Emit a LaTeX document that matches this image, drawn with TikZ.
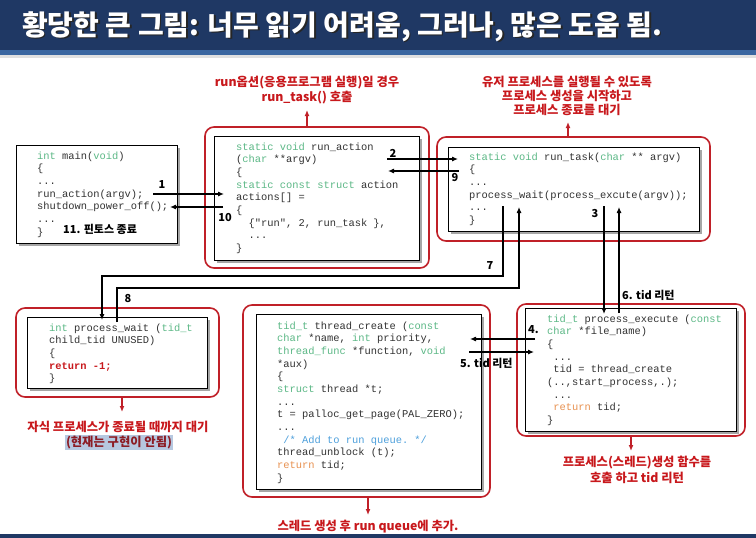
\documentclass[tikz,border=0pt]{standalone}
\usepackage{fontspec}
\setmonofont{Liberation Mono}
\newfontfamily\kr{Noto Sans CJK KR}
\usetikzlibrary{arrows.meta}
\definecolor{navy}{RGB}{31,56,100}
\definecolor{navylt}{RGB}{58,102,160}
\definecolor{redc}{RGB}{192,32,40}
\definecolor{redt}{RGB}{200,24,28}
\definecolor{kw}{RGB}{92,184,134}
\definecolor{cm}{RGB}{78,160,220}
\definecolor{rt}{RGB}{232,145,80}
\definecolor{codec}{RGB}{50,50,50}
\definecolor{hl}{RGB}{182,200,224}
\definecolor{maroonc}{RGB}{140,28,36}
\tikzset{
  redbox/.style={draw=redc, line width=1.6pt, rounded corners=9pt},
  codebox/.style={draw=black, line width=0.9pt, fill=white},
  shadowbox/.style={fill=black!35},
  code/.style={anchor=north west, align=left, inner sep=0pt, font=\ttfamily\fontsize{10.4}{12.65}\selectfont, text=codec},
  conn/.style={draw=black, line width=1.1pt, -{Latex[length=6pt,width=5pt]}},
  redarr/.style={draw=redc, line width=1.3pt, -{Latex[length=6pt,width=5pt]}},
  lbl/.style={font=\kr\bfseries\fontsize{12.3}{15}\selectfont, text=redt, inner sep=0pt, anchor=base},
  num/.style={font=\kr\bfseries\fontsize{11}{12}\selectfont, inner sep=0pt, text=black, anchor=base},
  ttl/.style={font=\kr\bfseries\fontsize{28}{32}\selectfont, inner sep=0pt, anchor=base west},
}
\newcommand\kwc[1]{\textcolor{kw}{#1}}
\newcommand\strutA{\rule{0pt}{9pt}}
\newcommand\cbox[4]{\fill[shadowbox] (#1+2.5,#2+2.5) rectangle (#3+2.5,#4+2.5); \draw[codebox] (#1,#2) rectangle (#3,#4);}
\begin{document}
\begin{tikzpicture}[x=1pt,y=-1pt]
\useasboundingbox (0,0) rectangle (756,538);
\fill[white] (0,0) rectangle (756,538);
% title bar
\fill[navy] (0,0) rectangle (756,50);
\fill[navylt] (0,50) rectangle (756,55);
\fill[black!12] (0,55) rectangle (756,58);
\node[ttl, text=black!85] (titsh) at (23.5,36.5) {황당한 큰 그림: 너무 읽기 어려움, 그러나, 많은 도움 됨.};
\node[ttl, text=white] (tit) at (22,35) {황당한 큰 그림: 너무 읽기 어려움, 그러나, 많은 도움 됨.};
% bottom line
\fill[navy] (0,534) rectangle (756,538);

% red outlines
\draw[redbox] (205,127) rectangle (429,268);
\draw[redbox] (437,137) rectangle (710,241);
\draw[redbox] (16,308) rectangle (219,397);
\draw[redbox] (243,305) rectangle (490,497);
\draw[redbox] (517,304) rectangle (745,436);

% code boxes
\cbox{16}{145}{177}{243}
\cbox{214}{136}{419}{260}
\cbox{448}{147}{699}{231}
\cbox{27}{317}{207}{388}
\cbox{256}{314}{481}{489}
\cbox{525}{308}{736}{431}

% code texts
\node[code] (mainc) at (37,150) {\strutA\kwc{int} main(\kwc{void})\\
\{\\
...\\
run\_action(argv);\\
shutdown\_power\_off();\\
...\\
\}};

\node[code] (actc) at (236,141) {\strutA\kwc{static void} run\_action\\
(\kwc{char} **argv)\\
\{\\
\kwc{static const struct} action\\
actions[] =\\
\{\\
\phantom{xx}\{"run", 2, run\_task \},\\
\phantom{xx}...\\
\}};

\node[code] (taskc) at (469,151) {\strutA\kwc{static void} run\_task(\kwc{char} ** argv)\\
\{\\
...\\
process\_wait(process\_excute(argv));\\
...\\
\}};

\node[code] (waitc) at (49,322) {\strutA\kwc{int} process\_wait (\kwc{tid\_t}\\
child\_tid UNUSED)\\
\{\\
\textcolor{redt}{\bfseries return -1;}\\
\}};

\node[code] (threadc) at (277,320) {\strutA\kwc{tid\_t} thread\_create (\kwc{const}\\
\kwc{char} *name, \kwc{int} priority,\\
\kwc{thread\_func} *function, \kwc{void}\\
*aux)\\
\{\\
\kwc{struct} thread *t;\\
...\\
t = palloc\_get\_page(PAL\_ZERO);\\
...\\
\phantom{x}\textcolor{cm}{/* Add to run queue. */}\\
thread\_unblock (t);\\
\textcolor{rt}{return} tid;\\
\}};

\node[code] (execc) at (547,313) {\strutA\kwc{tid\_t} process\_execute (\kwc{const}\\
\kwc{char} *file\_name)\\
\{\\
\phantom{x}...\\
\phantom{x}tid = thread\_create\\
(..,start\_process,.);\\
\phantom{x}...\\
\phantom{x}\textcolor{rt}{return} tid;\\
\}};

% red labels
\node[lbl] (la1) at (307,86.5) {run옵션(응용프로그램 실행)일 경우};
\node[lbl] (la2) at (307,101.5) {run\_task() 호출};
\node[lbl] (lb1) at (567,86) {유저 프로세스를 실행될 수 있도록};
\node[lbl] (lb2) at (567,100) {프로세스 생성을 시작하고};
\node[lbl] (lb3) at (567,114) {프로세스 종료를 대기};
\node[lbl] (lc1) at (118,431.5) {자식 프로세스가 종료될 때까지 대기};
\node[lbl, text=maroonc, fill=hl, inner sep=1pt] (lc2) at (119,446.5) {(현재는 구현이 안됨)};
\node[lbl] (ld1) at (368,530) {스레드 생성 후 run queue에 추가.};
\node[lbl] (le1) at (637,466.5) {프로세스(스레드)생성 함수를};
\node[lbl] (le2) at (637,482.5) {호출 하고 tid 리턴};

% red arrows
\coordinate (ra1) at (307,127); \coordinate (ra2) at (307,110);
\coordinate (rb1) at (568,137); \coordinate (rb2) at (568,122);
\coordinate (rc1) at (122,397); \coordinate (rc2) at (122,412);
\coordinate (rd1) at (368,497); \coordinate (rd2) at (368,515);
\coordinate (re1) at (631,436); \coordinate (re2) at (631,451);
\draw[redarr] (ra1) -- (ra2);
\draw[redarr] (rb1) -- (rb2);
\draw[redarr] (rc1) -- (rc2);
\draw[redarr] (rd1) -- (rd2);
\draw[redarr] (re1) -- (re2);

% connectors
\coordinate (c1a) at (153,194); \coordinate (c1b) at (224,194);
\coordinate (c10a) at (223,207); \coordinate (c10b) at (170,207);
\coordinate (c2a) at (387,159); \coordinate (c2b) at (458,159);
\coordinate (c9a) at (459,171); \coordinate (c9b) at (388,171);
\coordinate (c3a) at (604,206); \coordinate (c3b) at (604,314);
\coordinate (c6a) at (619,313); \coordinate (c6b) at (619,207);
\coordinate (c4a) at (535,339); \coordinate (c4b) at (470,339);
\coordinate (c5a) at (469,352); \coordinate (c5b) at (534,352);
\coordinate (c7a) at (503,206); \coordinate (c7b) at (102,320);
\coordinate (c8a) at (117,322); \coordinate (c8b) at (519,207);
\draw[conn] (c1a) -- (c1b);
\draw[conn] (c10a) -- (c10b);
\draw[conn] (c2a) -- (c2b);
\draw[conn] (c9a) -- (c9b);
\draw[conn] (c3a) -- (c3b);
\draw[conn] (c6a) -- (c6b);
\draw[conn] (c4a) -- (c4b);
\draw[conn] (c5a) -- (c5b);
\draw[conn] (c7a) -- (503,276) -- (102,276) -- (c7b);
\draw[conn] (c8a) -- (117,288) -- (519,288) -- (c8b);

% numbers
\node[num] (n1) at (162,188) {1};
\node[num] (n10) at (225,221) {10};
\node[num, anchor=base west] (n11) at (63,233) {11. 핀토스 종료};
\node[num] (n2) at (393,157) {2};
\node[num] (n9) at (455,181) {9};
\node[num] (n3) at (595,217) {3};
\node[num] (n7) at (490,269) {7};
\node[num] (n8) at (128,302) {8};
\node[num, anchor=base west] (n6) at (622,299) {6. tid 리턴};
\node[num, anchor=base west] (n4) at (528,333) {4.};
\node[num, anchor=base west] (n5) at (460,367) {5. tid 리턴};
\end{tikzpicture}
\end{document}
